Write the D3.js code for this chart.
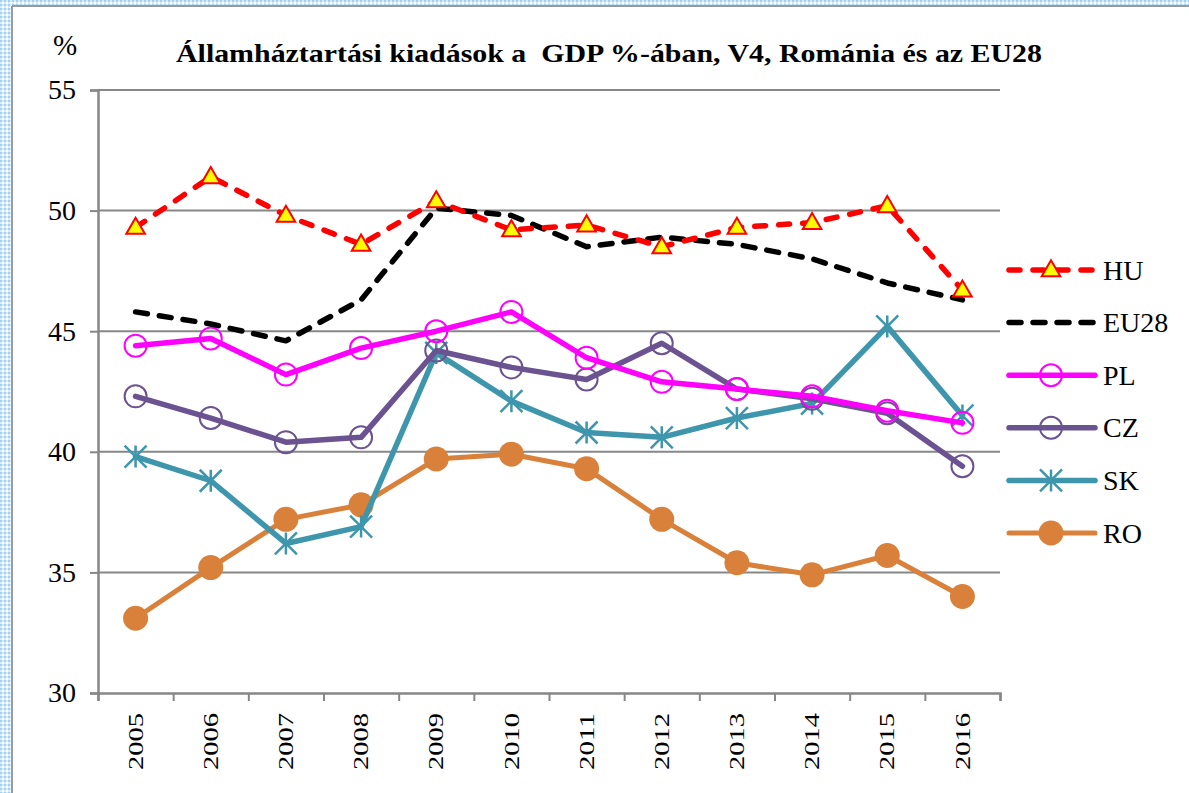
<!DOCTYPE html>
<html><head><meta charset="utf-8">
<script src="https://cdn.jsdelivr.net/npm/d3@7"></script>
<style>html,body{margin:0;padding:0;background:#fff;}svg{display:block;}</style>
</head><body>
<svg id="c" width="1189" height="793"></svg>
<script>
const years = ["2005","2006","2007","2008","2009","2010","2011","2012","2013","2014","2015","2016"];
const HU   = [49.3,51.4,49.8,48.6,50.4,49.2,49.4,48.5,49.3,49.5,50.2,46.7];
const EU28 = [45.8,45.3,44.6,46.3,50.1,49.8,48.5,48.9,48.6,48.0,47.0,46.3];
const PL   = [44.4,44.7,43.2,44.3,45.0,45.8,43.9,42.9,42.6,42.3,41.7,41.2];
const CZ   = [42.3,41.4,40.4,40.6,44.2,43.5,43.0,44.5,42.6,42.2,41.6,39.4];
const SK   = [39.8,38.8,36.2,36.9,44.1,42.1,40.8,40.6,41.4,42.0,45.2,41.5];
const RO   = [33.1,35.2,37.2,37.8,39.7,39.9,39.3,37.2,35.4,34.9,35.7,34.0];
const yTicks = [30,35,40,45,50,55];
const title = "Államháztartási kiadások a  GDP %-ában, V4, Románia és az EU28";
const unit = "%";

const series = [
  {name:"HU", values:HU, color:"#ff0000", dash:"11,13", width:5.5, marker:"tri"},
  {name:"EU28", values:EU28, color:"#000000", dash:"12,12", width:5.5, marker:"none"},
  {name:"PL", values:PL, color:"#ff00ff", dash:null, width:5.5, marker:"ocircle"},
  {name:"CZ", values:CZ, color:"#6b5290", dash:null, width:5.5, marker:"ocircle"},
  {name:"SK", values:SK, color:"#3e96ad", dash:null, width:5.5, marker:"star"},
  {name:"RO", values:RO, color:"#d9813a", dash:null, width:5, marker:"dot"}
];

const svg = d3.select("#c");
const defs = svg.append("defs");
const pat = defs.append("pattern").attr("id","dots").attr("width",4).attr("height",4).attr("patternUnits","userSpaceOnUse");
pat.append("rect").attr("width",4).attr("height",4).attr("fill","#d6ecfb");
pat.append("rect").attr("width",2).attr("height",2).attr("fill","#9fd2f5");
pat.append("rect").attr("x",2).attr("y",2).attr("width",2).attr("height",2).attr("fill","#ffffff");

svg.append("rect").attr("width",1189).attr("height",793).attr("fill","#fff");
svg.append("rect").attr("x",0).attr("y",0).attr("width",11).attr("height",793).attr("fill","url(#dots)");
svg.append("rect").attr("x",0).attr("y",0).attr("width",1189).attr("height",5).attr("fill","url(#dots)");
svg.append("line").attr("x1",12).attr("x2",12).attr("y1",6).attr("y2",793).attr("stroke","#9a9a9a").attr("stroke-width",2);
svg.append("line").attr("x1",12).attr("x2",1189).attr("y1",6).attr("y2",6).attr("stroke","#9a9a9a").attr("stroke-width",2);

const L=98, R=1000, T=90, B=693;
const x = d3.scaleBand().domain(years).range([L,R]);
const xc = d => x(d) + x.bandwidth()/2;
const y = d3.scaleLinear().domain([30,55]).range([B,T]);
const axisColor = "#878787";
const serif = "'Liberation Serif', 'Times New Roman', Times, serif";

// gridlines
svg.append("g").selectAll("line").data(yTicks.filter(v=>v>30)).join("line")
  .attr("x1",L).attr("x2",R).attr("y1",d=>y(d)).attr("y2",d=>y(d))
  .attr("stroke",axisColor).attr("stroke-width",2);

// y axis
const gy = svg.append("g").attr("transform",`translate(${L},0)`)
  .call(d3.axisLeft(y).tickValues(yTicks).tickSize(8).tickPadding(14).tickFormat(d3.format("d")));
gy.attr("font-family",serif);
gy.select(".domain").attr("stroke",axisColor).attr("stroke-width",2.5);
gy.selectAll(".tick line").attr("stroke",axisColor).attr("stroke-width",2);
gy.selectAll(".tick text").attr("font-family",serif).attr("font-size",28).attr("fill","#000");

// x axis boundary ticks
const xb = d3.scaleLinear().domain([0,years.length]).range([L,R]);
const gx = svg.append("g").attr("transform",`translate(0,${B})`)
  .call(d3.axisBottom(xb).tickValues(d3.range(years.length+1)).tickSize(8).tickFormat(""));
gx.select(".domain").attr("stroke",axisColor).attr("stroke-width",2.5);
gx.selectAll(".tick line").attr("stroke",axisColor).attr("stroke-width",2);
// x labels
const gxl = svg.append("g").attr("transform",`translate(0,${B})`)
  .call(d3.axisBottom(x).tickSize(0).tickPadding(0));
gxl.attr("font-family",serif);
gxl.select(".domain").remove();
gxl.selectAll(".tick text")
  .attr("transform","rotate(-90)").attr("text-anchor","end")
  .attr("x",-20).attr("y",0).attr("dy","0.34em")
  .attr("font-family",serif).attr("font-size",21)
  .attr("textLength",57).attr("lengthAdjust","spacingAndGlyphs").attr("fill","#000");

// lines
const line = d3.line().x((d,i)=>xc(years[i])).y(d=>y(d));
function drawMarker(g, s, cx, cy){
  if(s.marker==="tri"){
    g.append("path").attr("d",d3.symbol(d3.symbolTriangle,150)()).attr("transform",`translate(${cx},${cy+1})`)
      .attr("fill","#ffff00").attr("stroke","#ff0000").attr("stroke-width",2);
  } else if(s.marker==="ocircle"){
    g.append("circle").attr("cx",cx).attr("cy",cy).attr("r",11).attr("fill","none").attr("stroke",s.color).attr("stroke-width",2);
  } else if(s.marker==="dot"){
    g.append("circle").attr("cx",cx).attr("cy",cy).attr("r",12.5).attr("fill",s.color);
  } else if(s.marker==="star"){
    const r=11;
    const d = `M${cx},${cy-r}L${cx},${cy+r}M${cx-r},${cy-r}L${cx+r},${cy+r}M${cx-r},${cy+r}L${cx+r},${cy-r}`;
    g.append("path").attr("d",d).attr("stroke",s.color).attr("stroke-width",2.5).attr("fill","none");
  }
}
const order = ["RO","SK","CZ","PL","EU28","HU"];
order.forEach(n=>{
  const s = series.find(t=>t.name===n);
  const g = svg.append("g");
  g.append("path").datum(s.values).attr("d",line).attr("fill","none")
    .attr("stroke",s.color).attr("stroke-width",s.width)
    .attr("stroke-linejoin","round").attr("stroke-linecap","round")
    .attr("stroke-dasharray",s.dash);
  s.values.forEach((v,i)=>drawMarker(g,s,xc(years[i]),y(v)));
});

// legend
const legY = d3.scaleLinear().domain([0,5]).range([270,533]);
series.forEach((s,i)=>{
  const g = svg.append("g");
  const ly = legY(i);
  g.append("line").attr("x1",1009).attr("x2",1095).attr("y1",ly).attr("y2",ly)
    .attr("stroke",s.color).attr("stroke-width",s.width).attr("stroke-linecap","round")
    .attr("stroke-dasharray",s.dash);
  drawMarker(g,s,1051,ly);
  g.append("text").attr("x",1103).attr("y",ly).attr("dy","0.34em")
    .attr("font-family",serif).attr("font-size",28).attr("fill","#000").text(s.name);
});

// title and unit
svg.append("text").attr("x",176).attr("y",62).attr("xml:space","preserve").style("white-space","pre")
  .attr("font-family",serif).attr("font-weight","bold").attr("font-size",25)
  .attr("textLength",866).attr("lengthAdjust","spacingAndGlyphs").attr("fill","#000").text(title);
svg.append("text").attr("x",53).attr("y",55)
  .attr("font-family",serif).attr("font-size",29).attr("fill","#000").text(unit);
</script>
</body></html>
